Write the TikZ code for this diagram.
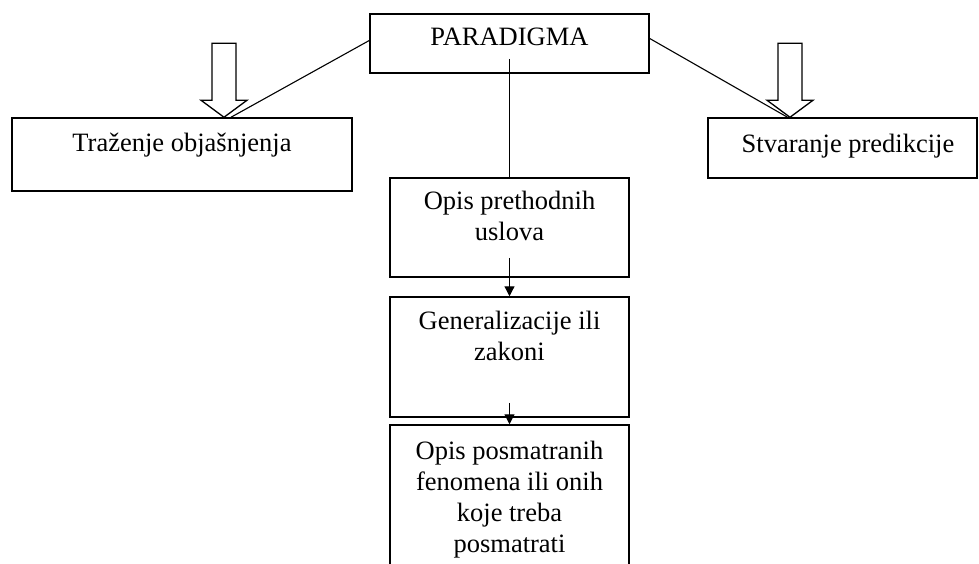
\documentclass[tikz,border=0pt]{standalone}
\usepackage{fontspec}
\setmainfont{Liberation Serif}
\usetikzlibrary{arrows.meta,positioning}

\tikzset{
  box/.style={draw, line width=1.5pt, inner sep=0pt},
  txt/.style={anchor=north, inner sep=0pt, align=center,
    font=\fontsize{26.5}{31}\selectfont},
  link/.style={line width=1.1pt},
  flow/.style={line width=1.2pt, -{Triangle[length=10pt,width=10pt]}},
  hollow/.style={draw, line width=1.3pt, fill=white}
}

\begin{document}
\begin{tikzpicture}[x=1pt,y=-1pt]
		\useasboundingbox (0,0) rectangle (979,563);
		\clip (0,0) rectangle (979,563);

		% Top box
		\node[box, minimum width=279pt, minimum height=59pt] (par) at (509.5,43.5) {};
		\node[txt] (partxt) at ([yshift=-15pt]par.north) {PARADIGMA};

		% Side boxes
		\node[box, minimum width=340pt, minimum height=73pt] (expl) at (182,154.5) {};
		\node[txt] (expltxt) at ([yshift=-16pt]expl.north) {Traženje objašnjenja};
		\node[box, minimum width=269pt, minimum height=60pt] (pred) at (842.5,148) {};
		\node[txt] (predtxt) at ([xshift=5.5pt,yshift=-17pt]pred.north) {Stvaranje predikcije};

		% Column
		\node[box, minimum width=239pt, minimum height=99pt] (uslovi) at (509.5,227.5) {};
		\node[txt] (uslovitxt) at ([yshift=-14pt]uslovi.north) {Opis prethodnih\\uslova};
		\node[box, minimum width=239pt, minimum height=120pt] (zakoni) at (509.5,357) {};
		\node[txt] (zakonitxt) at ([yshift=-15pt]zakoni.north) {Generalizacije ili\\zakoni};
		\node[box, minimum width=239pt, minimum height=160pt] (fenomeni) at (509.5,505) {};
		\node[txt] (fenomenitxt) at ([yshift=-17pt]fenomeni.north) {Opis posmatranih\\fenomena ili onih\\koje treba\\posmatrati};

		% Connectors
		\draw[link] ([yshift=3pt]par.west) -- ([xshift=49pt]expl.north);
		\draw[link] ([yshift=5pt]par.east) -- ([xshift=-55pt]pred.north);
		\draw[line width=1.2pt] ([yshift=15pt]par.south) -- (uslovi.north);
		\draw[flow] ([yshift=20pt]uslovi.south) -- (zakoni.north);
		\draw[flow] ([yshift=15pt]zakoni.south) -- (fenomeni.north);

		% Block arrows
		\draw[hollow] ([xshift=42pt]expl.north) -- ++(-23,-17) -- ++(11,0) -- ++(0,-57)
			-- ++(24,0) -- ++(0,57) -- ++(11,0) -- cycle;
		\draw[hollow] ([xshift=-52.5pt]pred.north) -- ++(-23,-17) -- ++(11,0) -- ++(0,-57)
			-- ++(24,0) -- ++(0,57) -- ++(11,0) -- cycle;
	\end{tikzpicture}
\end{document}
